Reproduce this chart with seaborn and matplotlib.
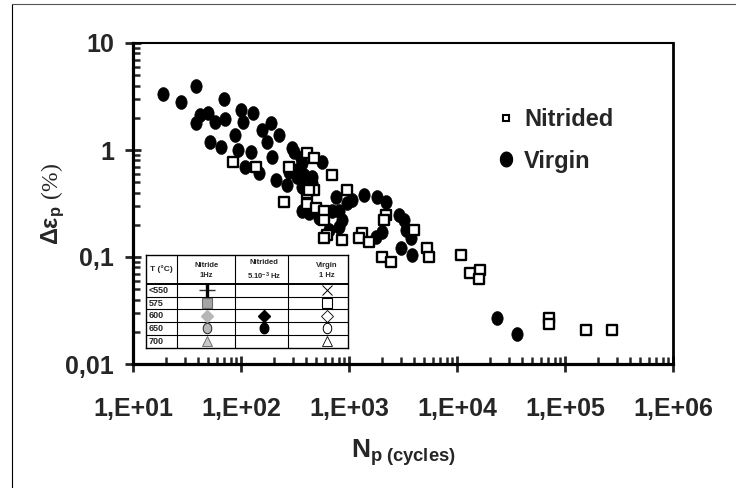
import numpy as np
import pandas as pd
import matplotlib
matplotlib.use('Agg')
import matplotlib.pyplot as plt
import seaborn as sns
from matplotlib.lines import Line2D

# Valeurs (N_p en cycles, Delta eps_p en %)
nitrided_cycles = [85, 139, 277, 406, 472, 695, 472, 406, 957, 406, 493, 585, 585, 624,
                   585, 861, 1321, 1240, 1535, 2208, 2118, 4027, 2028, 2461, 5321, 5550,
                   10790, 13060, 16180, 15850, 70950, 70950, 156700, 273500, 249, 425]
nitrided_strain = [0.77, 0.69, 0.69, 0.94, 0.84, 0.58, 0.42, 0.40, 0.42, 0.31, 0.29, 0.27,
                   0.22, 0.16, 0.15, 0.144, 0.167, 0.15, 0.138, 0.247, 0.22, 0.179, 0.100,
                   0.090, 0.121, 0.100, 0.104, 0.071, 0.076, 0.062, 0.027, 0.0237, 0.0208,
                   0.0208, 0.33, 0.42]

virgin_cycles = [19.0, 28.0, 38.5, 70.3, 42.0, 49.9, 38.5, 57.9, 71.8, 101, 128, 105, 88.9,
                 52.0, 65.9, 188, 155, 223, 173, 125, 94.8, 110, 146, 192, 295, 210, 265,
                 328, 357, 277, 381, 561, 453, 366, 757, 1067, 1380, 425, 807, 526, 861,
                 366, 328, 957, 695, 652, 807, 1820, 2208, 2917, 3250, 2028, 1783, 3390,
                 3777, 3049, 3857, 23280, 35730, 308, 453, 366]
virgin_strain = [3.33, 2.81, 3.96, 3.00, 2.12, 2.22, 1.79, 1.83, 1.95, 2.37, 2.22, 1.83, 1.38,
                 1.19, 1.07, 1.79, 1.54, 1.38, 1.19, 0.96, 1.00, 0.69, 0.61, 0.86, 1.04, 0.52,
                 0.47, 0.65, 0.84, 0.62, 0.58, 0.77, 0.56, 0.45, 0.36, 0.34, 0.38, 0.26, 0.27,
                 0.23, 0.22, 0.76, 0.56, 0.32, 0.27, 0.179, 0.19, 0.36, 0.33, 0.247, 0.22,
                 0.171, 0.154, 0.179, 0.151, 0.121, 0.104, 0.0269, 0.0191, 0.96, 0.49, 0.27]

x_ticks = [1e1, 1e2, 1e3, 1e4, 1e5, 1e6]
x_tick_labels = ['1,E+01', '1,E+02', '1,E+03', '1,E+04', '1,E+05', '1,E+06']
y_ticks = [0.01, 0.1, 1, 10]
y_tick_labels = ['0,01', '0,1', '1', '10']

# Petit tableau des symboles (encart)
table_temps = ['<550', '575', '600', '650', '700']
table_headers = ['T (°C)', 'Nitride\n1Hz', 'Nitrided\n5.10$^{\\mathbf{-3}}$ Hz', 'Virgin\n1 Hz']

sns.set_style('white')
plt.rcParams['font.family'] = ['Liberation Sans', 'DejaVu Sans']
plt.rcParams['mathtext.fontset'] = 'custom'
plt.rcParams['mathtext.rm'] = 'Liberation Serif'
plt.rcParams['mathtext.bf'] = 'Liberation Sans:bold'
plt.rcParams['mathtext.it'] = 'Liberation Serif:italic'

# cercles un peu ovales comme sur l'original
theta = np.linspace(0, 2 * np.pi, 48)
oval = np.column_stack([0.82 * np.cos(theta), np.sin(theta)])

fig = plt.figure(figsize=(7.36, 4.88), dpi=100)
ax = fig.add_axes([133 / 736, 1 - 364 / 488, 540 / 736, 321 / 488])

nit = pd.DataFrame({'N': nitrided_cycles, 'eps': nitrided_strain})
vir = pd.DataFrame({'N': virgin_cycles, 'eps': virgin_strain})

sns.scatterplot(data=vir, x='N', y='eps', marker=oval, s=100, color='black',
                edgecolor='black', linewidth=0.4, ax=ax, zorder=3)
sns.scatterplot(data=nit, x='N', y='eps', marker='s', s=42, facecolor='white',
                edgecolor='black', linewidth=1.7, ax=ax, zorder=4)

ax.set_xscale('log')
ax.set_yscale('log')
ax.set_xlim(10, 1e6)
ax.set_ylim(0.01, 10)
ax.set_xticks(x_ticks)
ax.set_xticklabels(x_tick_labels)
ax.set_yticks(y_ticks)
ax.set_yticklabels(y_tick_labels)
for lab in ax.get_xticklabels() + ax.get_yticklabels():
    lab.set_fontweight('bold')

ax.tick_params(axis='x', which='major', direction='inout', length=11, width=2.0,
               labelsize=18, pad=18, bottom=True)
ax.tick_params(axis='y', which='major', direction='inout', length=11, width=2.0,
               labelsize=18, pad=8, left=True)
ax.tick_params(axis='both', which='minor', direction='in', length=5, width=1.8,
               bottom=True, left=True)

for side in ['left', 'bottom']:
    ax.spines[side].set_linewidth(2.3)
ax.spines['right'].set_linewidth(2.0)
ax.spines['top'].set_linewidth(1.5)
for sp in ax.spines.values():
    sp.set_color('black')

ax.set_xlabel(r'$\mathbf{N_{p\ (cycles)}}$', fontsize=19, labelpad=12)
ax.set_ylabel(r'$\mathbf{\Delta\varepsilon_p}$ $\mathrm{(\%)}$', fontsize=17)
ax.yaxis.set_label_coords(-0.122, 0.5)

handles = [
    Line2D([], [], marker='s', ls='none', markersize=4.6, markerfacecolor='white',
           markeredgecolor='black', markeredgewidth=1.5, label='Nitrided'),
    Line2D([], [], marker=oval, ls='none', markersize=10.5, color='black', label='Virgin'),
]
ax.legend(handles=handles, loc='upper left', bbox_to_anchor=(485 / 736, 1 - 96 / 488),
          bbox_transform=fig.transFigure, frameon=False, borderpad=0,
          handlelength=0.8, handletextpad=0.35, labelspacing=0.8,
          prop={'weight': 'bold', 'size': 17})

# encart : tableau des symboles
col_edges = [0, 31, 89, 142, 202]
row_edges = [0, 29, 41.7, 54.3, 67, 79.7, 93]
col_marks = [60.5, 118, 180.5]
tab = fig.add_axes([146 / 736, 1 - 348 / 488, 202 / 736, 93 / 488], zorder=5)
tab.set_xlim(0, 202)
tab.set_ylim(93, 0)
tab.set_facecolor('white')
tab.set_xticks([])
tab.set_yticks([])
for sp in tab.spines.values():
    sp.set_linewidth(1.0)
    sp.set_color('black')
for xe in col_edges[1:-1]:
    tab.plot([xe, xe], [0, 93], color='black', lw=0.8)
for i, ye in enumerate(row_edges[1:-1]):
    tab.plot([0, 202], [ye, ye], color='black', lw=1.4 if i == 0 else 0.8)

row_centers = [(a + b) / 2 for a, b in zip(row_edges[1:-1], row_edges[2:])]
tab.text(15.5, row_edges[1] / 2, table_headers[0], ha='center', va='center',
         fontsize=6, fontweight='bold')
for c, h in zip(col_marks, table_headers[1:]):
    tab.text(c, row_edges[1] / 2 + 1, h, ha='center', va='center', fontsize=5.5,
             fontweight='bold', linespacing=1.5)
for r, t in zip(row_centers, table_temps):
    tab.text(3, r, t, ha='left', va='center', fontsize=6.5, fontweight='bold')

c1, c2, c3 = col_marks
tab.plot(c1, row_centers[0], marker='_', ms=12, mew=1.0, color='#333333')
tab.plot(c1, row_centers[0] + 1.5, marker='|', ms=11, mew=2.4, color='black')
tab.plot(c1, row_centers[1], marker='s', ms=6.5, mfc='#a4a4a4', mec='#6a6a6a', mew=0.8)
tab.plot(c1, row_centers[2], marker='D', ms=6.5, mfc='#b6b6b6', mec='#b6b6b6')
tab.plot(c1, row_centers[3], marker=oval, ms=7.5, mfc='#b8b8b8', mec='#333333', mew=0.8)
tab.plot(c1, row_centers[4], marker='^', ms=6.5, mfc='#c8c8c8', mec='#707070', mew=0.7)
tab.plot(c2, row_centers[2], marker='D', ms=6.5, color='black')
tab.plot(c2, row_centers[3], marker=oval, ms=7.5, color='black')
tab.plot(c3, row_centers[0], marker='x', ms=6.5, mew=0.7, color='black')
tab.plot(c3, row_centers[1], marker='s', ms=7, mfc='white', mec='black', mew=0.8)
tab.plot(c3, row_centers[2], marker='D', ms=6.5, mfc='white', mec='black', mew=0.6)
tab.plot(c3, row_centers[3], marker=oval, ms=7.5, mfc='white', mec='black', mew=0.7)
tab.plot(c3, row_centers[4], marker='^', ms=6.5, mfc='white', mec='black', mew=0.6)

# cadre de la figure
fig.add_artist(Line2D([12 / 736, 12 / 736], [0, 1 - 4 / 488], color='black', lw=0.8,
                      transform=fig.transFigure))
fig.add_artist(Line2D([12 / 736, 1], [1 - 4 / 488, 1 - 4 / 488], color='#555555', lw=0.8,
                      transform=fig.transFigure))

fig.savefig('out.png', dpi=100)
